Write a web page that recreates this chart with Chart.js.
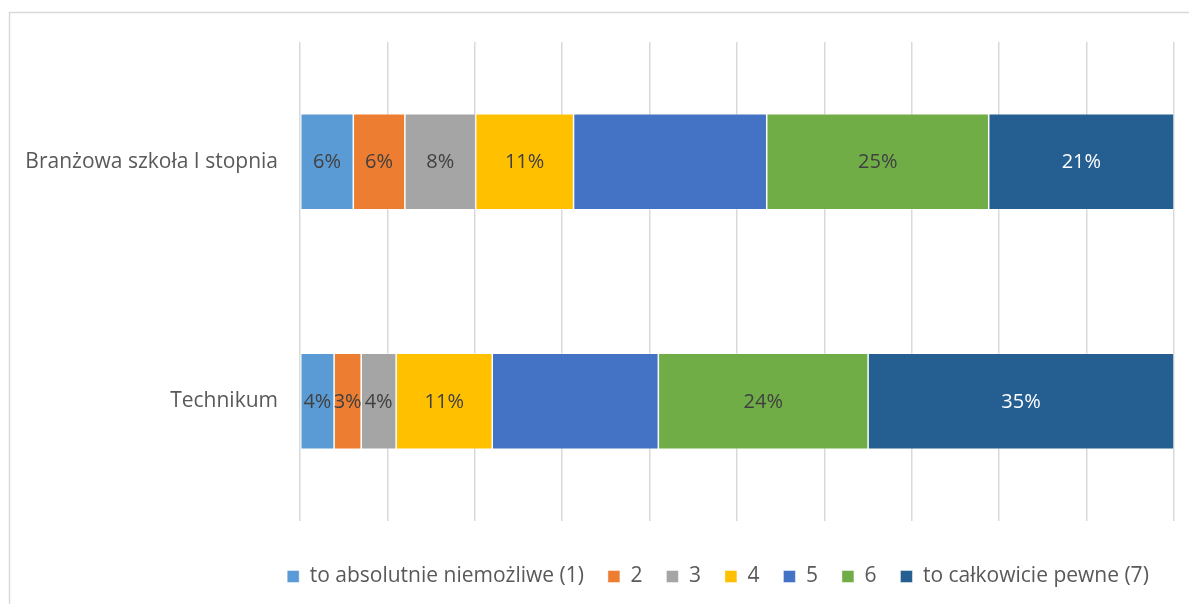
<!DOCTYPE html>
<html>
<head>
<meta charset="utf-8">
<script src="https://cdn.jsdelivr.net/npm/chart.js@4"></script>
<style>
  html, body { margin: 0; padding: 0; background: #fff; }
  #wrap { width: 1189px; height: 604px; position: relative; }
</style>
</head>
<body>
<div id="wrap"><canvas id="chart" width="1189" height="604"></canvas></div>
<script>
const categories = ['Branżowa szkoła I stopnia', 'Technikum'];
const seriesNames = ['to absolutnie niemożliwe (1)', '2', '3', '4', '5', '6', 'to całkowicie pewne (7)'];
const answer1 = [6.1, 3.9];
const answer2 = [5.9, 3.1];
const answer3 = [8.1, 4.0];
const answer4 = [11.2, 11.0];
const answer5 = [22.1, 19.0];
const answer6 = [25.4, 24.0];
const answer7 = [21.2, 35.0];
const seriesColors = ['#5B9BD5', '#ED7D31', '#A5A5A5', '#FFC000', '#4472C4', '#70AD47', '#255E91'];
// the "5" series has no visible labels in the original
const showLabels = [true, true, true, true, false, true, true];

const allValues = [answer1, answer2, answer3, answer4, answer5, answer6, answer7];
const FONT = '"Open Sans", "Noto Sans", sans-serif';

const frame = {
  id: 'frame',
  beforeDraw(chart) {
    const ctx = chart.ctx;
    ctx.save();
    ctx.strokeStyle = '#d9d9d9';
    ctx.lineWidth = 1.5;
    ctx.strokeRect(9.5, 12.5, 1300, 700);
    ctx.restore();
  }
};

// legend in the original sits right of the canvas centre (centred under the bars)
const legendShift = {
  id: 'legendShift',
  afterUpdate(chart) {
    const lg = chart.legend;
    if (!lg) return;
    const shift = 131;
    lg.left += shift;
    lg.right += shift;
    lg.adjustHitBoxes();
  }
};

const barLabels = {
  id: 'barLabels',
  afterDatasetsDraw(chart) {
    const ctx = chart.ctx;
    ctx.save();
    ctx.font = '20px ' + FONT;
    ctx.textAlign = 'center';
    ctx.textBaseline = 'middle';
    chart.data.datasets.forEach((ds, i) => {
      if (!showLabels[i]) return;
      chart.getDatasetMeta(i).data.forEach((bar, j) => {
        const x = (bar.x + bar.base) / 2;
        ctx.fillStyle = i === 6 ? '#ffffff' : '#404040';
        ctx.fillText(Math.round(ds.data[j]) + '%', x, bar.y + 1);
      });
    });
    ctx.restore();
  }
};

new Chart(document.getElementById('chart'), {
  type: 'bar',
  data: {
    labels: categories,
    datasets: seriesNames.map((name, i) => ({
      label: name,
      data: allValues[i],
      backgroundColor: seriesColors[i],
      borderColor: 'rgba(255,255,255,0.6)',
      borderWidth: 0.75,
      borderSkipped: false,
      barPercentage: 0.4,
      categoryPercentage: 1.0
    }))
  },
  options: {
    indexAxis: 'y',
    responsive: false,
    animation: false,
    layout: { padding: { top: 42, right: 15, left: 0, bottom: 7 } },
    scales: {
      x: {
        stacked: true,
        min: 0,
        max: 100,
        ticks: { display: false, stepSize: 10 },
        grid: { color: '#d9d9d9', lineWidth: 1.5, drawTicks: false },
        border: { display: false },
        afterFit(scale) { scale.height = 21; }
      },
      y: {
        stacked: true,
        ticks: { color: '#595959', font: { family: FONT, size: 21 }, padding: 22 },
        grid: { display: false, drawTicks: false },
        border: { display: false },
        afterFit(scale) { scale.width = 300; }
      }
    },
    plugins: {
      legend: {
        position: 'bottom',
        labels: {
          color: '#595959',
          font: { family: FONT, size: 21 },
          boxWidth: 12,
          boxHeight: 12,
          padding: 24,
          useBorderRadius: false
        }
      },
      tooltip: { enabled: false }
    }
  },
  plugins: [frame, legendShift, barLabels]
});
</script>
</body>
</html>
